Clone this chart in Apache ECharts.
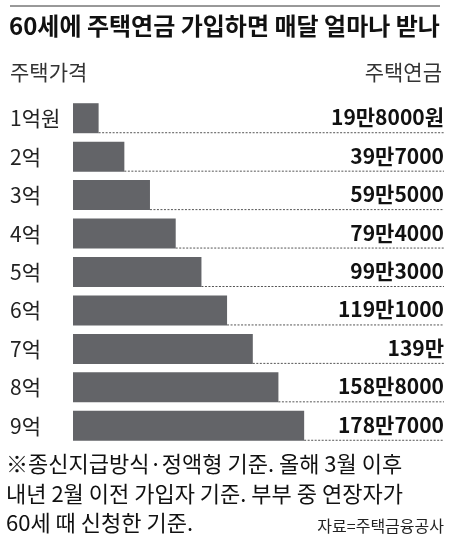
<!DOCTYPE html>
<html><head><meta charset="utf-8">
<script src="https://cdn.jsdelivr.net/npm/echarts@6/dist/echarts.min.js"></script>
<style>html,body{margin:0;padding:0;background:#fff}#c{width:450px;height:547px}</style>
</head><body><div id="c"></div>
<script>
const categories = ['1억원','2억','3억','4억','5억','6억','7억','8억','9억'];
const values = [19.8, 39.7, 59.5, 79.4, 99.3, 119.1, 139, 158.8, 178.7];
const valueLabels = ['19만8000원','39만7000','59만5000','79만4000','99만3000','119만1000','139만','158만8000','178만7000'];
const title = '60세에 주택연금 가입하면 매달 얼마나 받나';
const headerLeft = '주택가격';
const headerRight = '주택연금';
const notes = ['※종신지급방식·정액형 기준. 올해 3월 이후','내년 2월 이전 가입자 기준. 부부 중 연장자가','60세 때 신청한 기준.'];
const source = '자료=주택금융공사';

const F = '"Noto Sans CJK KR", sans-serif';
const chart = echarts.init(document.getElementById('c'));
chart.setOption({
  animation:false,
  grid:{left:73,right:6,top:99,bottom:102},
  xAxis:{type:'value',min:0,max:286.8,show:false},
  yAxis:{type:'category',data:categories,inverse:true,axisLine:{show:false},axisTick:{show:false},
    axisLabel:{margin:63,align:'left',fontFamily:F,fontSize:21,color:'#222'}},
  series:[{
    type:'custom',
    data:values.map((v,i)=>[v,i]),
    renderItem:function(params,api){
      const i=api.value(1), v=api.value(0);
      const p0=api.coord([0,i]), p1=api.coord([v,i]);
      const h=30, right=params.coordSys.x+params.coordSys.width;
      return {type:'group',children:[
        {type:'rect',shape:{x:p0[0],y:p0[1]-h/2,width:p1[0]-p0[0],height:h},style:{fill:'#636468'}},
        {type:'line',shape:{x1:p1[0],y1:p1[1]+h/2-0.5,x2:right,y2:p1[1]+h/2-0.5},style:{stroke:'#555',lineWidth:1,lineDash:[2,1.5]}},
        {type:'text',style:{text:valueLabels[params.dataIndex],x:right,y:p1[1]-1,align:'right',verticalAlign:'middle',font:'bold 21px '+F,fill:'#111'}}
      ]};
    }
  }],
  graphic:[
    {type:'line',shape:{x1:10,y1:6,x2:440,y2:6},style:{stroke:'#333',lineWidth:1}},
    {type:'text',left:9,top:14,style:{text:title,font:'bold 24px '+F,fill:'#111'}},
    {type:'text',left:10,top:62,style:{text:headerLeft,font:'21px '+F,fill:'#333'}},
    {type:'text',right:8,top:62,style:{text:headerRight,font:'21px '+F,fill:'#333'}},
    {type:'text',left:6,top:453,style:{text:notes[0],font:'22px '+F,fill:'#111'}},
    {type:'text',left:6,top:483,style:{text:notes[1],font:'22px '+F,fill:'#111'}},
    {type:'text',left:6,top:512,style:{text:notes[2],font:'22px '+F,fill:'#111'}},
    {type:'text',right:6,top:518,style:{text:source,font:'16px '+F,fill:'#222'}}
  ]
});
</script></body></html>
